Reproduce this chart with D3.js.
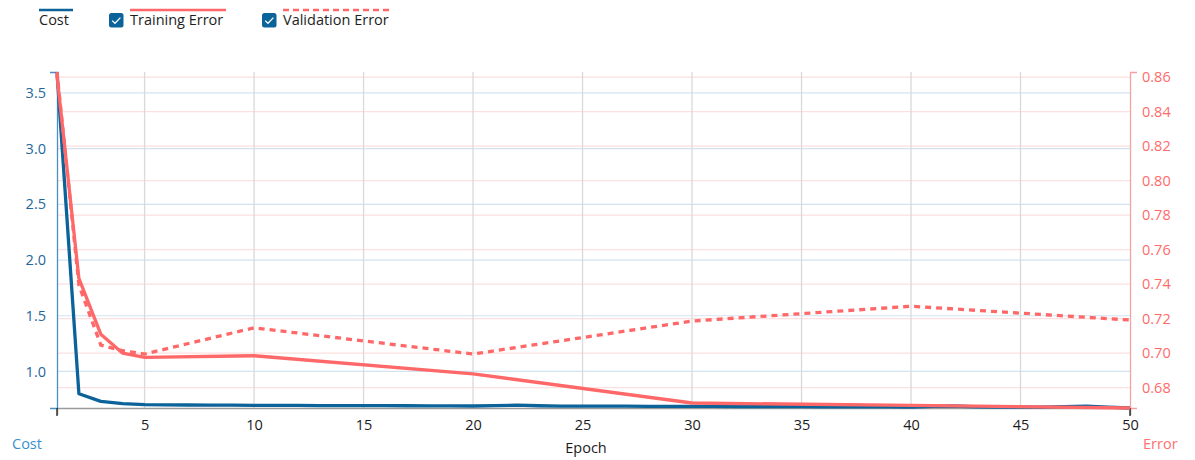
<!DOCTYPE html>
<html>
<head>
<meta charset="utf-8">
<script src="https://cdn.jsdelivr.net/npm/d3@7"></script>
<style>
  html, body { margin: 0; padding: 0; background: #fff; }
  svg { display: block; font-family: "Open Sans", "Noto Sans", sans-serif; }
</style>
</head>
<body>
<svg id="chart" width="1195" height="460"></svg>
<script>
// ---- data ----
const costEpochs = [1,2,3,4,5,6,7,8,9,10,11,12,13,14,15,16,17,18,19,20,21,22,23,24,25,26,27,28,29,30,31,32,33,34,35,36,37,38,39,40,41,42,43,44,45,46,47,48,49,50];
const costValues = [3.688,0.800,0.731,0.711,0.702,0.700,0.699,0.698,0.697,0.695,0.696,0.695,0.694,0.694,0.693,0.693,0.692,0.691,0.691,0.690,0.693,0.698,0.692,0.689,0.689,0.688,0.688,0.687,0.687,0.686,0.686,0.685,0.685,0.684,0.684,0.683,0.683,0.682,0.682,0.681,0.686,0.690,0.683,0.680,0.679,0.679,0.684,0.688,0.680,0.672];
const errorEpochs = [1,2,3,4,5,10,20,30,40,50];
const trainingError = [0.861,0.7433,0.711,0.700,0.6976,0.6985,0.688,0.6711,0.6697,0.6682];
const validationError = [0.863,0.7394,0.7047,0.7014,0.6995,0.7147,0.6995,0.7186,0.7272,0.7192];
const xTicks = [5,10,15,20,25,30,35,40,45,50];
const costTicks = [1.0,1.5,2.0,2.5,3.0,3.5];
const errorTicks = [0.68,0.70,0.72,0.74,0.76,0.78,0.80,0.82,0.84,0.86];
const legendItems = ["Cost","Training Error","Validation Error"];

// ---- layout ----
const svg = d3.select("#chart");
const L = 57, R = 1130, T = 72, B = 408;
const blue = "#0b6399", red = "#ff6868";

const x = d3.scaleLinear().domain(d3.extent(costEpochs)).range([L, R]);
const yC = d3.scaleLinear().domain(d3.extent(costValues)).range([B, T]);
const yE = d3.scaleLinear().domain(d3.extent(trainingError.concat(validationError))).range([B, T]);

// grid
const grid = svg.append("g");
grid.selectAll(".ge").data(errorTicks).join("line")
  .attr("x1", L).attr("x2", R).attr("y1", d => yE(d)).attr("y2", d => yE(d))
  .attr("stroke", "#fde0e0").attr("stroke-width", 1.2);
grid.selectAll(".gc").data(costTicks).join("line")
  .attr("x1", L).attr("x2", R).attr("y1", d => yC(d)).attr("y2", d => yC(d))
  .attr("stroke", "#d3e4f1").attr("stroke-width", 1.2);
grid.selectAll(".gx").data(xTicks.filter(d => d < 50)).join("line")
  .attr("x1", d => x(d)).attr("x2", d => x(d)).attr("y1", T).attr("y2", B)
  .attr("stroke", "#d9d9d9").attr("stroke-width", 1.3);

// axes
const xAxis = svg.append("g").attr("transform", `translate(0,${B})`)
  .call(d3.axisBottom(x).tickValues(xTicks).tickSize(0).tickSizeOuter(7).tickPadding(12));
xAxis.select(".domain").attr("stroke", "#9a9a9a").attr("stroke-width", 1.5);
xAxis.selectAll("text").attr("font-size", 14.5).attr("fill", "#1a1a1a").attr("font-family", "Open Sans");

const yAxisL = svg.append("g").attr("transform", `translate(${L},0)`)
  .call(d3.axisLeft(yC).tickValues(costTicks).tickFormat(d3.format(".1f")).tickSize(0).tickSizeOuter(7).tickPadding(11));
yAxisL.select(".domain").attr("stroke", "#4a8fc4").attr("stroke-width", 1.3);
yAxisL.selectAll("text").attr("font-size", 14.5).attr("fill", "#1f679b").attr("font-family", "Open Sans");

const yAxisR = svg.append("g").attr("transform", `translate(${R},0)`)
  .call(d3.axisRight(yE).tickValues(errorTicks).tickFormat(d3.format(".2f")).tickSize(0).tickSizeOuter(7).tickPadding(12));
yAxisR.select(".domain").attr("stroke", "#f3a3a3").attr("stroke-width", 1.3);
yAxisR.selectAll("text").attr("font-size", 14.5).attr("fill", "#ff6b6b").attr("font-family", "Open Sans");

// x outer ticks dark
svg.selectAll(".xend").data([1,50]).join("line")
  .attr("x1", d => x(d)).attr("x2", d => x(d)).attr("y1", B).attr("y2", B + 8)
  .attr("stroke", "#222").attr("stroke-width", 1.3);

// lines
const costLine = d3.line().x((d, i) => x(costEpochs[i])).y(d => yC(d));
const errLine = d3.line().x((d, i) => x(errorEpochs[i])).y(d => yE(d));
svg.append("path").datum(costValues).attr("d", costLine)
  .attr("fill", "none").attr("stroke", blue).attr("stroke-width", 3.3).attr("stroke-linejoin", "round");
svg.append("path").datum(trainingError).attr("d", errLine)
  .attr("fill", "none").attr("stroke", red).attr("stroke-width", 3.3).attr("stroke-linejoin", "round");
svg.append("path").datum(validationError).attr("d", errLine)
  .attr("fill", "none").attr("stroke", red).attr("stroke-width", 3.3).attr("stroke-dasharray", "6,5");

// axis titles
svg.append("text").attr("x", 12).attr("y", 449).text("Cost")
  .attr("font-size", 14.5).attr("fill", "#3a8fd0");
svg.append("text").attr("x", 1143).attr("y", 449).text("Error")
  .attr("font-size", 14.5).attr("fill", "#ff7070");
svg.append("text").attr("x", 586).attr("y", 453).attr("text-anchor", "middle").text("Epoch")
  .attr("font-size", 14.5).attr("fill", "#1a1a1a");

// legend
const lg = svg.append("g");
lg.append("line").attr("x1", 39).attr("x2", 73).attr("y1", 10).attr("y2", 10)
  .attr("stroke", blue).attr("stroke-width", 2.5);
lg.append("text").attr("x", 39).attr("y", 25).text(legendItems[0]).attr("font-size", 14.5).attr("fill", "#1e1e1e");
function checkbox(cx) {
  lg.append("rect").attr("x", cx).attr("y", 13).attr("width", 14.5).attr("height", 14.5).attr("rx", 2.5)
    .attr("fill", blue);
  lg.append("path").attr("d", `M${cx+3.2},${13+7.6} L${cx+6},${13+10.3} L${cx+11.4},${13+4.6}`)
    .attr("fill", "none").attr("stroke", "#fff").attr("stroke-width", 1.3);
}
checkbox(109);
lg.append("line").attr("x1", 130).attr("x2", 226).attr("y1", 10).attr("y2", 10)
  .attr("stroke", red).attr("stroke-width", 2.5);
lg.append("text").attr("x", 130).attr("y", 25).text(legendItems[1]).attr("font-size", 14.5).attr("fill", "#1e1e1e");
checkbox(262);
lg.append("line").attr("x1", 283).attr("x2", 389).attr("y1", 10).attr("y2", 10)
  .attr("stroke", red).attr("stroke-width", 2.5).attr("stroke-dasharray", "6,4");
lg.append("text").attr("x", 283).attr("y", 25).text(legendItems[2]).attr("font-size", 14.5).attr("fill", "#1e1e1e");
</script>
</body>
</html>
